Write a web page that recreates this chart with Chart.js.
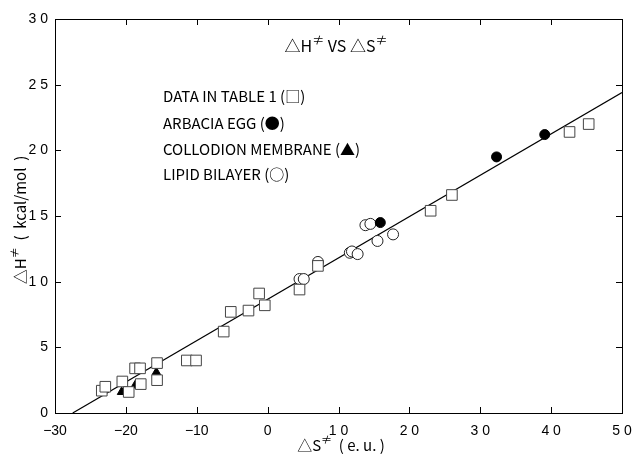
<!DOCTYPE html>
<html>
<head>
<meta charset="utf-8">
<script src="https://cdn.jsdelivr.net/npm/chart.js@4/dist/chart.umd.min.js"></script>
<style>
  body { margin: 0; background: #fff; }
  #wrap { width: 637px; height: 460px; }
</style>
</head>
<body>
<div id="wrap"><canvas id="chart" width="637" height="460"></canvas></div>
<script>
// Data in table 1 (open squares)
const tableS = [-23.4, -22.9, -20.5, -19.6, -17.9, -18.7, -18.0, -15.6, -15.6, -11.4, -10.1,
                -6.2, -5.2, -2.7, -1.2, -0.4, 4.5, 7.1, 23.0, 26.0, 42.6, 45.3];
const tableH = [1.7, 2.0, 2.4, 1.6, 2.2, 3.4, 3.4, 3.8, 2.5, 4.0, 4.0,
                6.2, 7.7, 7.8, 9.1, 8.2, 9.4, 11.2, 15.4, 16.6, 21.4, 22.0];
// Arbacia egg (filled circles)
const eggS = [15.9, 32.3, 39.1];
const eggH = [14.5, 19.5, 21.2];
// Collodion membrane (filled triangles)
const collS = [-20.6, -18.7, -15.7];
const collH = [1.6, 2.1, 3.1];
// Lipid bilayer (open circles)
const lipidS = [4.5, 5.1, 7.1, 11.6, 11.9, 12.7, 13.8, 14.5, 15.5, 17.7];
const lipidH = [10.2, 10.2, 11.5, 12.2, 12.3, 12.1, 14.3, 14.4, 13.1, 13.6];
// regression line end points
const fitS = [-27.5, 50];
const fitH = [0, 24.4];

const xTicks = [-30, -20, -10, 0, 10, 20, 30, 40, 50];
const xTickText = ['\u221230', '\u221220', '\u221210', '0', '1 0', '2 0', '3 0', '4 0', '5 0'];
const yTicks = [0, 5, 10, 15, 20, 25, 30];
const yTickText = ['0', '5', '1 0', '1 5', '2 0', '2 5', '3 0'];

const legendText = [
  'DATA IN TABLE 1 (\u25A1)',
  'ARBACIA EGG (\u25CF)',
  'COLLODION MEMBRANE (\u25B2)',
  'LIPID BILAYER (\u25CB)'
];

const FONT = "'Noto Sans CJK JP', 'DejaVu Sans', sans-serif";
const NUMFONT = "'Liberation Sans', Arial, sans-serif";

function pts(xs, ys) {
  return xs.map((x, i) => ({ x: x, y: ys[i] }));
}

// text with raised "≠" marks, centred on (cx, cy)
function drawSup(ctx, parts, cx, cy, size) {
  const big = size + 'px ' + FONT, small = Math.round(size * 0.75) + 'px ' + FONT;
  let w = 0;
  parts.forEach(p => { ctx.font = p.sup ? small : big; w += ctx.measureText(p.t).width; });
  let x = cx - w / 2;
  ctx.textAlign = 'left';
  ctx.textBaseline = 'middle';
  parts.forEach(p => {
    ctx.font = p.sup ? small : big;
    ctx.fillText(p.t, x, p.sup ? cy - size * 0.35 : cy);
    x += ctx.measureText(p.t).width;
  });
}

// box, inward ticks and text annotations
const framePlugin = {
  id: 'frame',
  afterDraw(chart) {
    const ctx = chart.ctx;
    const a = chart.chartArea;
    const xs = chart.scales.x, ys = chart.scales.y;
    ctx.save();
    ctx.strokeStyle = '#000';
    ctx.lineWidth = 1;
    ctx.strokeRect(a.left + 0.5, a.top + 0.5, a.right - a.left, a.bottom - a.top);
    ctx.beginPath();
    xTicks.forEach(v => {
      const px = Math.round(xs.getPixelForValue(v)) + 0.5;
      ctx.moveTo(px, a.bottom); ctx.lineTo(px, a.bottom - 6);
      ctx.moveTo(px, a.top); ctx.lineTo(px, a.top + 6);
    });
    yTicks.forEach(v => {
      const py = Math.round(ys.getPixelForValue(v)) + 0.5;
      ctx.moveTo(a.left, py); ctx.lineTo(a.left + 6, py);
      ctx.moveTo(a.right, py); ctx.lineTo(a.right - 6, py);
    });
    ctx.stroke();

    ctx.fillStyle = '#000';
    drawSup(ctx, [{ t: '\u25B3H' }, { t: '\u2260', sup: true }, { t: ' VS \u25B3S' }, { t: '\u2260', sup: true }], 336, 46, 16);
    ctx.textAlign = 'left';
    ctx.textBaseline = 'middle';
    ctx.font = '15px ' + FONT;
    const rows = [96, 123, 149, 174];
    legendText.forEach((t, i) => ctx.fillText(t, 163, rows[i]));

    // axis titles
    drawSup(ctx, [{ t: '\u25B3S' }, { t: '\u2260', sup: true }, { t: '  ( e. u. )' }], 341, 445, 15);
    ctx.save();
    ctx.translate(20, 220);
    ctx.rotate(-Math.PI / 2);
    drawSup(ctx, [{ t: '\u25B3H' }, { t: '\u2260', sup: true }, { t: '  (  kcal/mol  )' }], 0, 0, 15);
    ctx.restore();
    ctx.restore();
  }
};

new Chart(document.getElementById('chart'), {
  type: 'scatter',
  data: {
    datasets: [
      {
        label: 'Data in table 1',
        data: pts(tableS, tableH),
        pointStyle: 'rect',
        pointRadius: 7.5,
        pointBackgroundColor: '#fff',
        pointBorderColor: '#444',
        pointBorderWidth: 1,
        order: 1
      },
      {
        label: 'Arbacia egg',
        data: pts(eggS, eggH),
        pointStyle: 'circle',
        pointRadius: 5,
        pointBackgroundColor: '#000',
        pointBorderColor: '#000',
        order: 2
      },
      {
        label: 'Collodion membrane',
        data: pts(collS, collH),
        pointStyle: 'triangle',
        pointRadius: 5,
        pointBackgroundColor: '#000',
        pointBorderColor: '#000',
        order: 2
      },
      {
        label: 'Lipid bilayer',
        data: pts(lipidS, lipidH),
        pointStyle: 'circle',
        pointRadius: 5.5,
        pointBackgroundColor: '#fff',
        pointBorderColor: '#222',
        pointBorderWidth: 1,
        order: 3
      },
      {
        type: 'line',
        label: 'fit',
        data: pts(fitS, fitH),
        borderColor: '#000',
        borderWidth: 1.2,
        pointRadius: 0,
        fill: false,
        order: 5
      }
    ]
  },
  options: {
    responsive: false,
    animation: false,
    layout: { padding: { left: 0, right: 15, top: 19, bottom: 0 }, autoPadding: false },
    plugins: { legend: { display: false }, tooltip: { enabled: false } },
    scales: {
      x: {
        type: 'linear',
        min: -30, max: 50,
        afterBuildTicks: s => { s.ticks = xTicks.map(v => ({ value: v })); },
        afterFit: s => { s.height = 47; s.paddingLeft = 0; s.paddingRight = 0; },
        grid: { display: false, drawTicks: false },
        border: { display: false },
        ticks: {
          padding: 10,
          color: '#000',
          font: { family: NUMFONT, size: 14 },
          maxRotation: 0,
          callback: v => xTickText[xTicks.indexOf(v)]
        }
      },
      y: {
        type: 'linear',
        min: 0, max: 30,
        afterBuildTicks: s => { s.ticks = yTicks.map(v => ({ value: v })); },
        afterFit: s => { s.width = 55; s.paddingTop = 0; s.paddingBottom = 0; },
        grid: { display: false, drawTicks: false },
        border: { display: false },
        ticks: {
          padding: 7,
          color: '#000',
          font: { family: NUMFONT, size: 14 },
          callback: v => yTickText[yTicks.indexOf(v)]
        }
      }
    }
  },
  plugins: [framePlugin]
});
</script>
</body>
</html>
